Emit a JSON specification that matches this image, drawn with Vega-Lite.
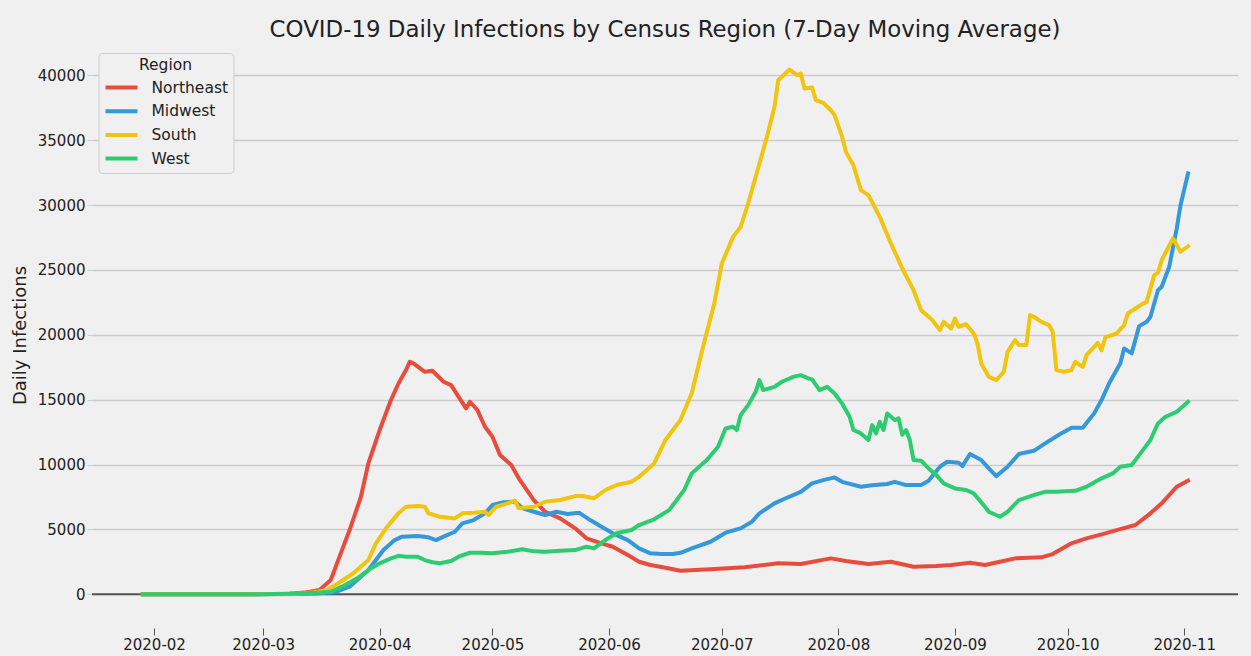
{
  "$schema": "https://vega.github.io/schema/vega-lite/v6.json",
  "width": 1146,
  "height": 585,
  "autosize": {"type": "none"},
  "padding": {"left": 92, "top": 43, "right": 13, "bottom": 28},
  "background": "#f0f0f0",
  "config": {
    "view": {"stroke": null, "fill": "#f0f0f0"},
    "font": "DejaVu Sans"
  },
  "title": {
    "text": "COVID-19 Daily Infections by Census Region (7-Day Moving Average)",
    "font": "DejaVu Sans",
    "fontSize": 22.9,
    "fontWeight": "normal",
    "color": "#222222",
    "anchor": "middle",
    "baseline": "alphabetic",
    "offset": 5,
    "dy": 22
  },
  "data": {
    "values": [
      {"date": "2020-01-29", "region": "Northeast", "cases": 0},
      {"date": "2020-02-10", "region": "Northeast", "cases": 0},
      {"date": "2020-02-20", "region": "Northeast", "cases": 0},
      {"date": "2020-03-01", "region": "Northeast", "cases": 15},
      {"date": "2020-03-08", "region": "Northeast", "cases": 50},
      {"date": "2020-03-12", "region": "Northeast", "cases": 130},
      {"date": "2020-03-16", "region": "Northeast", "cases": 330},
      {"date": "2020-03-19", "region": "Northeast", "cases": 1100},
      {"date": "2020-03-21", "region": "Northeast", "cases": 2650},
      {"date": "2020-03-24", "region": "Northeast", "cases": 4950},
      {"date": "2020-03-27", "region": "Northeast", "cases": 7500},
      {"date": "2020-03-29", "region": "Northeast", "cases": 10100},
      {"date": "2020-04-01", "region": "Northeast", "cases": 12660},
      {"date": "2020-04-04", "region": "Northeast", "cases": 14970},
      {"date": "2020-04-06", "region": "Northeast", "cases": 16250},
      {"date": "2020-04-08", "region": "Northeast", "cases": 17280},
      {"date": "2020-04-09", "region": "Northeast", "cases": 17920},
      {"date": "2020-04-10", "region": "Northeast", "cases": 17800},
      {"date": "2020-04-13", "region": "Northeast", "cases": 17150},
      {"date": "2020-04-15", "region": "Northeast", "cases": 17230},
      {"date": "2020-04-18", "region": "Northeast", "cases": 16380},
      {"date": "2020-04-20", "region": "Northeast", "cases": 16120},
      {"date": "2020-04-22", "region": "Northeast", "cases": 15220},
      {"date": "2020-04-24", "region": "Northeast", "cases": 14330},
      {"date": "2020-04-25", "region": "Northeast", "cases": 14840},
      {"date": "2020-04-27", "region": "Northeast", "cases": 14200},
      {"date": "2020-04-29", "region": "Northeast", "cases": 12910},
      {"date": "2020-05-01", "region": "Northeast", "cases": 12140},
      {"date": "2020-05-03", "region": "Northeast", "cases": 10730},
      {"date": "2020-05-06", "region": "Northeast", "cases": 9960},
      {"date": "2020-05-08", "region": "Northeast", "cases": 8940},
      {"date": "2020-05-12", "region": "Northeast", "cases": 7265},
      {"date": "2020-05-15", "region": "Northeast", "cases": 6360},
      {"date": "2020-05-19", "region": "Northeast", "cases": 5855},
      {"date": "2020-05-23", "region": "Northeast", "cases": 5085},
      {"date": "2020-05-26", "region": "Northeast", "cases": 4314},
      {"date": "2020-05-30", "region": "Northeast", "cases": 3930},
      {"date": "2020-06-02", "region": "Northeast", "cases": 3667},
      {"date": "2020-06-06", "region": "Northeast", "cases": 3028},
      {"date": "2020-06-09", "region": "Northeast", "cases": 2511},
      {"date": "2020-06-12", "region": "Northeast", "cases": 2257},
      {"date": "2020-06-15", "region": "Northeast", "cases": 2110},
      {"date": "2020-06-20", "region": "Northeast", "cases": 1820},
      {"date": "2020-06-28", "region": "Northeast", "cases": 1925},
      {"date": "2020-07-07", "region": "Northeast", "cases": 2080},
      {"date": "2020-07-16", "region": "Northeast", "cases": 2390},
      {"date": "2020-07-22", "region": "Northeast", "cases": 2330},
      {"date": "2020-07-30", "region": "Northeast", "cases": 2770},
      {"date": "2020-08-03", "region": "Northeast", "cases": 2565},
      {"date": "2020-08-09", "region": "Northeast", "cases": 2330},
      {"date": "2020-08-15", "region": "Northeast", "cases": 2510},
      {"date": "2020-08-21", "region": "Northeast", "cases": 2125},
      {"date": "2020-08-27", "region": "Northeast", "cases": 2180},
      {"date": "2020-08-31", "region": "Northeast", "cases": 2260},
      {"date": "2020-09-05", "region": "Northeast", "cases": 2435},
      {"date": "2020-09-09", "region": "Northeast", "cases": 2260},
      {"date": "2020-09-13", "region": "Northeast", "cases": 2510},
      {"date": "2020-09-17", "region": "Northeast", "cases": 2770},
      {"date": "2020-09-24", "region": "Northeast", "cases": 2850},
      {"date": "2020-09-27", "region": "Northeast", "cases": 3100},
      {"date": "2020-10-02", "region": "Northeast", "cases": 3930},
      {"date": "2020-10-06", "region": "Northeast", "cases": 4310},
      {"date": "2020-10-11", "region": "Northeast", "cases": 4700},
      {"date": "2020-10-14", "region": "Northeast", "cases": 4950},
      {"date": "2020-10-19", "region": "Northeast", "cases": 5340},
      {"date": "2020-10-23", "region": "Northeast", "cases": 6240},
      {"date": "2020-10-26", "region": "Northeast", "cases": 7010},
      {"date": "2020-10-30", "region": "Northeast", "cases": 8290},
      {"date": "2020-11-02", "region": "Northeast", "cases": 8750},

      {"date": "2020-01-29", "region": "Midwest", "cases": 0},
      {"date": "2020-02-15", "region": "Midwest", "cases": 0},
      {"date": "2020-03-01", "region": "Midwest", "cases": 5},
      {"date": "2020-03-10", "region": "Midwest", "cases": 25},
      {"date": "2020-03-15", "region": "Midwest", "cases": 60},
      {"date": "2020-03-20", "region": "Midwest", "cases": 150},
      {"date": "2020-03-24", "region": "Midwest", "cases": 590},
      {"date": "2020-03-29", "region": "Midwest", "cases": 1870},
      {"date": "2020-04-02", "region": "Midwest", "cases": 3410},
      {"date": "2020-04-05", "region": "Midwest", "cases": 4180},
      {"date": "2020-04-07", "region": "Midwest", "cases": 4440},
      {"date": "2020-04-11", "region": "Midwest", "cases": 4490},
      {"date": "2020-04-14", "region": "Midwest", "cases": 4390},
      {"date": "2020-04-16", "region": "Midwest", "cases": 4180},
      {"date": "2020-04-18", "region": "Midwest", "cases": 4440},
      {"date": "2020-04-21", "region": "Midwest", "cases": 4820},
      {"date": "2020-04-23", "region": "Midwest", "cases": 5470},
      {"date": "2020-04-26", "region": "Midwest", "cases": 5720},
      {"date": "2020-04-29", "region": "Midwest", "cases": 6240},
      {"date": "2020-05-01", "region": "Midwest", "cases": 6880},
      {"date": "2020-05-04", "region": "Midwest", "cases": 7090},
      {"date": "2020-05-07", "region": "Midwest", "cases": 7135},
      {"date": "2020-05-09", "region": "Midwest", "cases": 6625},
      {"date": "2020-05-12", "region": "Midwest", "cases": 6360},
      {"date": "2020-05-15", "region": "Midwest", "cases": 6110},
      {"date": "2020-05-18", "region": "Midwest", "cases": 6360},
      {"date": "2020-05-21", "region": "Midwest", "cases": 6190},
      {"date": "2020-05-24", "region": "Midwest", "cases": 6290},
      {"date": "2020-05-27", "region": "Midwest", "cases": 5720},
      {"date": "2020-05-30", "region": "Midwest", "cases": 5210},
      {"date": "2020-06-02", "region": "Midwest", "cases": 4700},
      {"date": "2020-06-06", "region": "Midwest", "cases": 4180},
      {"date": "2020-06-09", "region": "Midwest", "cases": 3540},
      {"date": "2020-06-12", "region": "Midwest", "cases": 3160},
      {"date": "2020-06-15", "region": "Midwest", "cases": 3100},
      {"date": "2020-06-18", "region": "Midwest", "cases": 3100},
      {"date": "2020-06-20", "region": "Midwest", "cases": 3200},
      {"date": "2020-06-23", "region": "Midwest", "cases": 3540},
      {"date": "2020-06-28", "region": "Midwest", "cases": 4050},
      {"date": "2020-07-02", "region": "Midwest", "cases": 4750},
      {"date": "2020-07-06", "region": "Midwest", "cases": 5080},
      {"date": "2020-07-09", "region": "Midwest", "cases": 5590},
      {"date": "2020-07-11", "region": "Midwest", "cases": 6240},
      {"date": "2020-07-15", "region": "Midwest", "cases": 7010},
      {"date": "2020-07-18", "region": "Midwest", "cases": 7400},
      {"date": "2020-07-22", "region": "Midwest", "cases": 7900},
      {"date": "2020-07-25", "region": "Midwest", "cases": 8550},
      {"date": "2020-07-28", "region": "Midwest", "cases": 8800},
      {"date": "2020-07-31", "region": "Midwest", "cases": 9010},
      {"date": "2020-08-02", "region": "Midwest", "cases": 8670},
      {"date": "2020-08-07", "region": "Midwest", "cases": 8290},
      {"date": "2020-08-10", "region": "Midwest", "cases": 8400},
      {"date": "2020-08-14", "region": "Midwest", "cases": 8500},
      {"date": "2020-08-16", "region": "Midwest", "cases": 8670},
      {"date": "2020-08-19", "region": "Midwest", "cases": 8420},
      {"date": "2020-08-23", "region": "Midwest", "cases": 8420},
      {"date": "2020-08-25", "region": "Midwest", "cases": 8750},
      {"date": "2020-08-28", "region": "Midwest", "cases": 9830},
      {"date": "2020-08-30", "region": "Midwest", "cases": 10220},
      {"date": "2020-09-02", "region": "Midwest", "cases": 10140},
      {"date": "2020-09-03", "region": "Midwest", "cases": 9880},
      {"date": "2020-09-05", "region": "Midwest", "cases": 10810},
      {"date": "2020-09-08", "region": "Midwest", "cases": 10350},
      {"date": "2020-09-10", "region": "Midwest", "cases": 9710},
      {"date": "2020-09-12", "region": "Midwest", "cases": 9110},
      {"date": "2020-09-15", "region": "Midwest", "cases": 9830},
      {"date": "2020-09-18", "region": "Midwest", "cases": 10810},
      {"date": "2020-09-22", "region": "Midwest", "cases": 11060},
      {"date": "2020-09-25", "region": "Midwest", "cases": 11630},
      {"date": "2020-09-29", "region": "Midwest", "cases": 12350},
      {"date": "2020-10-02", "region": "Midwest", "cases": 12840},
      {"date": "2020-10-05", "region": "Midwest", "cases": 12840},
      {"date": "2020-10-08", "region": "Midwest", "cases": 13940},
      {"date": "2020-10-10", "region": "Midwest", "cases": 14970},
      {"date": "2020-10-12", "region": "Midwest", "cases": 16250},
      {"date": "2020-10-15", "region": "Midwest", "cases": 17800},
      {"date": "2020-10-16", "region": "Midwest", "cases": 18950},
      {"date": "2020-10-18", "region": "Midwest", "cases": 18570},
      {"date": "2020-10-20", "region": "Midwest", "cases": 20670},
      {"date": "2020-10-22", "region": "Midwest", "cases": 21000},
      {"date": "2020-10-23", "region": "Midwest", "cases": 21390},
      {"date": "2020-10-25", "region": "Midwest", "cases": 23440},
      {"date": "2020-10-26", "region": "Midwest", "cases": 23700},
      {"date": "2020-10-28", "region": "Midwest", "cases": 25240},
      {"date": "2020-10-30", "region": "Midwest", "cases": 28200},
      {"date": "2020-10-31", "region": "Midwest", "cases": 29990},
      {"date": "2020-11-02", "region": "Midwest", "cases": 32430},

      {"date": "2020-01-29", "region": "South", "cases": 0},
      {"date": "2020-02-15", "region": "South", "cases": 0},
      {"date": "2020-03-01", "region": "South", "cases": 5},
      {"date": "2020-03-10", "region": "South", "cases": 40},
      {"date": "2020-03-14", "region": "South", "cases": 130},
      {"date": "2020-03-18", "region": "South", "cases": 330},
      {"date": "2020-03-21", "region": "South", "cases": 850},
      {"date": "2020-03-25", "region": "South", "cases": 1620},
      {"date": "2020-03-29", "region": "South", "cases": 2640},
      {"date": "2020-03-31", "region": "South", "cases": 3930},
      {"date": "2020-04-03", "region": "South", "cases": 5210},
      {"date": "2020-04-06", "region": "South", "cases": 6240},
      {"date": "2020-04-08", "region": "South", "cases": 6750},
      {"date": "2020-04-11", "region": "South", "cases": 6800},
      {"date": "2020-04-13", "region": "South", "cases": 6750},
      {"date": "2020-04-14", "region": "South", "cases": 6240},
      {"date": "2020-04-17", "region": "South", "cases": 5980},
      {"date": "2020-04-21", "region": "South", "cases": 5850},
      {"date": "2020-04-23", "region": "South", "cases": 6240},
      {"date": "2020-04-26", "region": "South", "cases": 6290},
      {"date": "2020-04-29", "region": "South", "cases": 6360},
      {"date": "2020-04-30", "region": "South", "cases": 6110},
      {"date": "2020-05-02", "region": "South", "cases": 6750},
      {"date": "2020-05-05", "region": "South", "cases": 7010},
      {"date": "2020-05-07", "region": "South", "cases": 7210},
      {"date": "2020-05-08", "region": "South", "cases": 6625},
      {"date": "2020-05-12", "region": "South", "cases": 6750},
      {"date": "2020-05-15", "region": "South", "cases": 7135},
      {"date": "2020-05-19", "region": "South", "cases": 7265},
      {"date": "2020-05-23", "region": "South", "cases": 7570},
      {"date": "2020-05-25", "region": "South", "cases": 7570},
      {"date": "2020-05-28", "region": "South", "cases": 7400},
      {"date": "2020-05-31", "region": "South", "cases": 8040},
      {"date": "2020-06-03", "region": "South", "cases": 8420},
      {"date": "2020-06-07", "region": "South", "cases": 8670},
      {"date": "2020-06-09", "region": "South", "cases": 9060},
      {"date": "2020-06-13", "region": "South", "cases": 10090},
      {"date": "2020-06-16", "region": "South", "cases": 11890},
      {"date": "2020-06-20", "region": "South", "cases": 13430},
      {"date": "2020-06-23", "region": "South", "cases": 15500},
      {"date": "2020-06-26", "region": "South", "cases": 19080},
      {"date": "2020-06-29", "region": "South", "cases": 22420},
      {"date": "2020-07-01", "region": "South", "cases": 25500},
      {"date": "2020-07-04", "region": "South", "cases": 27550},
      {"date": "2020-07-06", "region": "South", "cases": 28320},
      {"date": "2020-07-08", "region": "South", "cases": 30120},
      {"date": "2020-07-10", "region": "South", "cases": 32170},
      {"date": "2020-07-13", "region": "South", "cases": 35250},
      {"date": "2020-07-15", "region": "South", "cases": 37560},
      {"date": "2020-07-16", "region": "South", "cases": 39620},
      {"date": "2020-07-19", "region": "South", "cases": 40450},
      {"date": "2020-07-21", "region": "South", "cases": 40010},
      {"date": "2020-07-22", "region": "South", "cases": 40140},
      {"date": "2020-07-23", "region": "South", "cases": 38980},
      {"date": "2020-07-25", "region": "South", "cases": 39060},
      {"date": "2020-07-26", "region": "South", "cases": 38080},
      {"date": "2020-07-28", "region": "South", "cases": 37870},
      {"date": "2020-07-30", "region": "South", "cases": 37310},
      {"date": "2020-07-31", "region": "South", "cases": 36930},
      {"date": "2020-08-02", "region": "South", "cases": 35250},
      {"date": "2020-08-03", "region": "South", "cases": 34100},
      {"date": "2020-08-05", "region": "South", "cases": 33070},
      {"date": "2020-08-07", "region": "South", "cases": 31150},
      {"date": "2020-08-09", "region": "South", "cases": 30760},
      {"date": "2020-08-12", "region": "South", "cases": 29090},
      {"date": "2020-08-15", "region": "South", "cases": 27040},
      {"date": "2020-08-18", "region": "South", "cases": 25110},
      {"date": "2020-08-21", "region": "South", "cases": 23440},
      {"date": "2020-08-23", "region": "South", "cases": 21900},
      {"date": "2020-08-25", "region": "South", "cases": 21390},
      {"date": "2020-08-26", "region": "South", "cases": 21130},
      {"date": "2020-08-28", "region": "South", "cases": 20360},
      {"date": "2020-08-29", "region": "South", "cases": 21000},
      {"date": "2020-08-31", "region": "South", "cases": 20490},
      {"date": "2020-09-01", "region": "South", "cases": 21260},
      {"date": "2020-09-02", "region": "South", "cases": 20620},
      {"date": "2020-09-04", "region": "South", "cases": 20820},
      {"date": "2020-09-06", "region": "South", "cases": 20100},
      {"date": "2020-09-07", "region": "South", "cases": 19340},
      {"date": "2020-09-08", "region": "South", "cases": 17800},
      {"date": "2020-09-10", "region": "South", "cases": 16760},
      {"date": "2020-09-12", "region": "South", "cases": 16510},
      {"date": "2020-09-14", "region": "South", "cases": 17150},
      {"date": "2020-09-15", "region": "South", "cases": 18690},
      {"date": "2020-09-17", "region": "South", "cases": 19590},
      {"date": "2020-09-18", "region": "South", "cases": 19210},
      {"date": "2020-09-20", "region": "South", "cases": 19210},
      {"date": "2020-09-21", "region": "South", "cases": 21520},
      {"date": "2020-09-22", "region": "South", "cases": 21390},
      {"date": "2020-09-24", "region": "South", "cases": 21000},
      {"date": "2020-09-26", "region": "South", "cases": 20750},
      {"date": "2020-09-27", "region": "South", "cases": 20230},
      {"date": "2020-09-28", "region": "South", "cases": 17280},
      {"date": "2020-09-30", "region": "South", "cases": 17150},
      {"date": "2020-10-02", "region": "South", "cases": 17280},
      {"date": "2020-10-03", "region": "South", "cases": 17920},
      {"date": "2020-10-05", "region": "South", "cases": 17530},
      {"date": "2020-10-06", "region": "South", "cases": 18440},
      {"date": "2020-10-09", "region": "South", "cases": 19380},
      {"date": "2020-10-10", "region": "South", "cases": 18820},
      {"date": "2020-10-11", "region": "South", "cases": 19800},
      {"date": "2020-10-14", "region": "South", "cases": 20100},
      {"date": "2020-10-16", "region": "South", "cases": 20750},
      {"date": "2020-10-17", "region": "South", "cases": 21650},
      {"date": "2020-10-19", "region": "South", "cases": 22030},
      {"date": "2020-10-21", "region": "South", "cases": 22400},
      {"date": "2020-10-22", "region": "South", "cases": 22540},
      {"date": "2020-10-24", "region": "South", "cases": 24600},
      {"date": "2020-10-25", "region": "South", "cases": 24780},
      {"date": "2020-10-26", "region": "South", "cases": 25760},
      {"date": "2020-10-29", "region": "South", "cases": 27430},
      {"date": "2020-10-31", "region": "South", "cases": 26400},
      {"date": "2020-11-02", "region": "South", "cases": 26830},

      {"date": "2020-01-29", "region": "West", "cases": 0},
      {"date": "2020-02-15", "region": "West", "cases": 0},
      {"date": "2020-03-01", "region": "West", "cases": 10},
      {"date": "2020-03-10", "region": "West", "cases": 60},
      {"date": "2020-03-15", "region": "West", "cases": 120},
      {"date": "2020-03-19", "region": "West", "cases": 200},
      {"date": "2020-03-22", "region": "West", "cases": 590},
      {"date": "2020-03-26", "region": "West", "cases": 1230},
      {"date": "2020-03-29", "region": "West", "cases": 1870},
      {"date": "2020-04-01", "region": "West", "cases": 2390},
      {"date": "2020-04-04", "region": "West", "cases": 2770},
      {"date": "2020-04-06", "region": "West", "cases": 2970},
      {"date": "2020-04-08", "region": "West", "cases": 2900},
      {"date": "2020-04-11", "region": "West", "cases": 2900},
      {"date": "2020-04-13", "region": "West", "cases": 2640},
      {"date": "2020-04-15", "region": "West", "cases": 2470},
      {"date": "2020-04-17", "region": "West", "cases": 2390},
      {"date": "2020-04-20", "region": "West", "cases": 2570},
      {"date": "2020-04-22", "region": "West", "cases": 2900},
      {"date": "2020-04-25", "region": "West", "cases": 3210},
      {"date": "2020-04-28", "region": "West", "cases": 3210},
      {"date": "2020-05-01", "region": "West", "cases": 3160},
      {"date": "2020-05-05", "region": "West", "cases": 3280},
      {"date": "2020-05-09", "region": "West", "cases": 3470},
      {"date": "2020-05-12", "region": "West", "cases": 3310},
      {"date": "2020-05-15", "region": "West", "cases": 3280},
      {"date": "2020-05-19", "region": "West", "cases": 3360},
      {"date": "2020-05-23", "region": "West", "cases": 3410},
      {"date": "2020-05-26", "region": "West", "cases": 3670},
      {"date": "2020-05-28", "region": "West", "cases": 3540},
      {"date": "2020-05-31", "region": "West", "cases": 4180},
      {"date": "2020-06-03", "region": "West", "cases": 4700},
      {"date": "2020-06-07", "region": "West", "cases": 4950},
      {"date": "2020-06-09", "region": "West", "cases": 5340},
      {"date": "2020-06-13", "region": "West", "cases": 5780},
      {"date": "2020-06-17", "region": "West", "cases": 6490},
      {"date": "2020-06-21", "region": "West", "cases": 8040},
      {"date": "2020-06-23", "region": "West", "cases": 9320},
      {"date": "2020-06-27", "region": "West", "cases": 10350},
      {"date": "2020-06-30", "region": "West", "cases": 11370},
      {"date": "2020-07-02", "region": "West", "cases": 12780},
      {"date": "2020-07-04", "region": "West", "cases": 12910},
      {"date": "2020-07-05", "region": "West", "cases": 12660},
      {"date": "2020-07-06", "region": "West", "cases": 13810},
      {"date": "2020-07-08", "region": "West", "cases": 14580},
      {"date": "2020-07-10", "region": "West", "cases": 15610},
      {"date": "2020-07-11", "region": "West", "cases": 16510},
      {"date": "2020-07-12", "region": "West", "cases": 15740},
      {"date": "2020-07-15", "region": "West", "cases": 15990},
      {"date": "2020-07-17", "region": "West", "cases": 16380},
      {"date": "2020-07-20", "region": "West", "cases": 16760},
      {"date": "2020-07-22", "region": "West", "cases": 16890},
      {"date": "2020-07-24", "region": "West", "cases": 16640},
      {"date": "2020-07-25", "region": "West", "cases": 16560},
      {"date": "2020-07-27", "region": "West", "cases": 15740},
      {"date": "2020-07-29", "region": "West", "cases": 15990},
      {"date": "2020-07-31", "region": "West", "cases": 15480},
      {"date": "2020-08-02", "region": "West", "cases": 14710},
      {"date": "2020-08-04", "region": "West", "cases": 13680},
      {"date": "2020-08-05", "region": "West", "cases": 12660},
      {"date": "2020-08-07", "region": "West", "cases": 12400},
      {"date": "2020-08-09", "region": "West", "cases": 11890},
      {"date": "2020-08-10", "region": "West", "cases": 13040},
      {"date": "2020-08-11", "region": "West", "cases": 12400},
      {"date": "2020-08-12", "region": "West", "cases": 13300},
      {"date": "2020-08-13", "region": "West", "cases": 12660},
      {"date": "2020-08-14", "region": "West", "cases": 13940},
      {"date": "2020-08-16", "region": "West", "cases": 13430},
      {"date": "2020-08-17", "region": "West", "cases": 13560},
      {"date": "2020-08-18", "region": "West", "cases": 12300},
      {"date": "2020-08-19", "region": "West", "cases": 12660},
      {"date": "2020-08-20", "region": "West", "cases": 11890},
      {"date": "2020-08-21", "region": "West", "cases": 10350},
      {"date": "2020-08-23", "region": "West", "cases": 10300},
      {"date": "2020-08-25", "region": "West", "cases": 9700},
      {"date": "2020-08-27", "region": "West", "cases": 9200},
      {"date": "2020-08-29", "region": "West", "cases": 8550},
      {"date": "2020-09-01", "region": "West", "cases": 8160},
      {"date": "2020-09-04", "region": "West", "cases": 8040},
      {"date": "2020-09-06", "region": "West", "cases": 7780},
      {"date": "2020-09-09", "region": "West", "cases": 6750},
      {"date": "2020-09-10", "region": "West", "cases": 6360},
      {"date": "2020-09-13", "region": "West", "cases": 5980},
      {"date": "2020-09-15", "region": "West", "cases": 6360},
      {"date": "2020-09-18", "region": "West", "cases": 7265},
      {"date": "2020-09-22", "region": "West", "cases": 7650},
      {"date": "2020-09-25", "region": "West", "cases": 7900},
      {"date": "2020-09-28", "region": "West", "cases": 7900},
      {"date": "2020-10-03", "region": "West", "cases": 7980},
      {"date": "2020-10-06", "region": "West", "cases": 8290},
      {"date": "2020-10-10", "region": "West", "cases": 8940},
      {"date": "2020-10-13", "region": "West", "cases": 9320},
      {"date": "2020-10-15", "region": "West", "cases": 9830},
      {"date": "2020-10-18", "region": "West", "cases": 9960},
      {"date": "2020-10-20", "region": "West", "cases": 10730},
      {"date": "2020-10-23", "region": "West", "cases": 11890},
      {"date": "2020-10-25", "region": "West", "cases": 13170},
      {"date": "2020-10-27", "region": "West", "cases": 13680},
      {"date": "2020-10-30", "region": "West", "cases": 14070},
      {"date": "2020-11-02", "region": "West", "cases": 14840}
    ]
  },
  "layer": [
    {
      "data": {"values": [{"level": "baseline"}]},
      "mark": {"type": "rule", "color": "#555555", "strokeWidth": 2},
      "encoding": {
        "y": {"datum": 0, "type": "quantitative"}
      }
    },
    {
      "mark": {"type": "line", "strokeWidth": 4, "strokeJoin": "round", "strokeCap": "square"},
      "encoding": {
        "x": {
          "field": "date",
          "type": "temporal",
          "scale": {
            "type": "utc",
            "domain": [
              {"year": 2020, "month": 1, "date": 15, "hours": 11, "minutes": 45, "utc": true},
              {"year": 2020, "month": 11, "date": 15, "hours": 7, "utc": true}
            ]
          },
          "axis": {
            "title": null,
            "values": [
              {"year": 2020, "month": 2, "date": 1, "utc": true},
              {"year": 2020, "month": 3, "date": 1, "utc": true},
              {"year": 2020, "month": 4, "date": 1, "utc": true},
              {"year": 2020, "month": 5, "date": 1, "utc": true},
              {"year": 2020, "month": 6, "date": 1, "utc": true},
              {"year": 2020, "month": 7, "date": 1, "utc": true},
              {"year": 2020, "month": 8, "date": 1, "utc": true},
              {"year": 2020, "month": 9, "date": 1, "utc": true},
              {"year": 2020, "month": 10, "date": 1, "utc": true},
              {"year": 2020, "month": 11, "date": 1, "utc": true}
            ],
            "format": "%Y-%m",
            "grid": false,
            "domain": false,
            "ticks": true,
            "tickSize": 7,
            "tickColor": "#555555",
            "tickWidth": 1,
            "labelFont": "DejaVu Sans",
            "labelFontSize": 15,
            "labelColor": "#222222",
            "labelPadding": 2,
            "labelFlush": false,
            "labelOverlap": false
          }
        },
        "y": {
          "field": "cases",
          "type": "quantitative",
          "scale": {"domain": [-2597, 42490], "nice": false, "zero": false},
          "axis": {
            "title": "Daily Infections",
            "values": [0, 5000, 10000, 15000, 20000, 25000, 30000, 35000, 40000],
            "format": "d",
            "grid": true,
            "gridColor": "#cbcbcb",
            "gridWidth": 1.3,
            "domain": false,
            "tickSize": 5,
            "tickColor": "#cbcbcb",
            "labelFont": "DejaVu Sans",
            "labelFontSize": 15,
            "labelColor": "#222222",
            "labelPadding": 2,
            "titleFont": "DejaVu Sans",
            "titleFontSize": 18,
            "titleFontWeight": "normal",
            "titleColor": "#222222",
            "titleX": -72,
            "titleY": 292,
            "titleAngle": 270,
            "titleAlign": "center",
            "titleBaseline": "middle"
          }
        },
        "color": {
          "field": "region",
          "type": "nominal",
          "scale": {
            "domain": ["Northeast", "Midwest", "South", "West"],
            "range": ["#e74c3c", "#3498db", "#f1c40f", "#2ecc71"]
          },
          "legend": {
            "title": "Region",
            "orient": "none",
            "legendX": 6.5,
            "legendY": 10,
            "titleAnchor": "middle",
            "titleFont": "DejaVu Sans",
            "titleFontSize": 15.5,
            "titleFontWeight": "normal",
            "titleColor": "#222222",
            "titlePadding": 5,
            "labelFont": "DejaVu Sans",
            "labelFontSize": 15.5,
            "labelColor": "#222222",
            "labelOffset": 12,
            "symbolType": "stroke",
            "symbolSize": 1024,
            "symbolStrokeWidth": 4,
            "clipHeight": 18,
            "rowPadding": 5.7,
            "padding": 5,
            "fillColor": "#f0f0f0",
            "strokeColor": "#cccccc",
            "cornerRadius": 4
          }
        }
      }
    }
  ]
}
